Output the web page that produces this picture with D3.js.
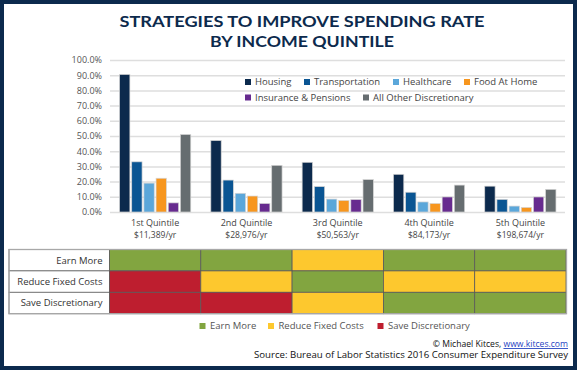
<!DOCTYPE html>
<html><head><meta charset="utf-8">
<script src="https://cdn.jsdelivr.net/npm/d3@7"></script>
<style>
html,body{margin:0;padding:0;background:#fff;}
svg{display:block;font-family:"Open Sans",sans-serif;}
</style></head>
<body>
<svg id="c" width="577" height="370"></svg>
<script>
const quintiles = ["1st Quintile","2nd Quintile","3rd Quintile","4th Quintile","5th Quintile"];
const incomes = ["$11,389/yr","$28,976/yr","$50,563/yr","$84,173/yr","$198,674/yr"];
const seriesNames = ["Housing","Transportation","Healthcare","Food At Home","Insurance & Pensions","All Other Discretionary"];
const housing = [90.5, 47, 32.7, 24.8, 17];
const transportation = [33, 21, 16.7, 13, 8.3];
const healthcare = [19, 12.3, 8.5, 6.6, 3.9];
const foodAtHome = [22.2, 10.5, 7.6, 5.6, 3.0];
const insurance = [6, 5.6, 8.2, 9.9, 9.9];
const allOther = [51, 30.7, 21.3, 17.7, 14.9];
const yTicks = [0,10,20,30,40,50,60,70,80,90,100];
const strategies = ["Earn More","Reduce Fixed Costs","Save Discretionary"];
const earnMoreRow = ["Earn More","Earn More","Reduce Fixed Costs","Earn More","Earn More"];
const reduceFixedRow = ["Save Discretionary","Reduce Fixed Costs","Earn More","Reduce Fixed Costs","Reduce Fixed Costs"];
const saveDiscRow = ["Save Discretionary","Save Discretionary","Reduce Fixed Costs","Earn More","Earn More"];

const seriesValues = [housing, transportation, healthcare, foodAtHome, insurance, allOther];
const seriesColors = ["#0c2a4d","#0a5593","#5ba7da","#f7961e","#672b8f","#666d70"];
const stratColors = {"Earn More":"#82a540","Reduce Fixed Costs":"#fdc82e","Save Discretionary":"#be1e2f"};
const tableRows = [earnMoreRow, reduceFixedRow, saveDiscRow];

const svg = d3.select("#c");
const navy = "#0c2a4d";

// Title
const title = svg.append("g").attr("fill", navy).attr("font-weight", 700).attr("font-size", 16)
  .attr("font-family","Lato, 'Open Sans', sans-serif").attr("text-anchor","middle");
title.append("text").attr("x", 302).attr("y", 27).attr("textLength", 365).attr("lengthAdjust","spacingAndGlyphs").text("STRATEGIES TO IMPROVE SPENDING RATE");
title.append("text").attr("x", 302).attr("y", 46.5).attr("textLength", 184).attr("lengthAdjust","spacingAndGlyphs").text("BY INCOME QUINTILE");

// Scales
const y = d3.scaleLinear().domain([0,100]).range([212, 60]);
const x0 = d3.scaleBand().domain(quintiles).range([109.5, 566]).paddingInner(0.22).paddingOuter(0.11);
const x1 = d3.scaleBand().domain(seriesNames).range([0, x0.bandwidth()]).paddingInner(0.15);

// Gridlines + y labels
const yAxis = d3.axisLeft(y).tickValues(yTicks).tickSize(-(565-110)).tickPadding(8).tickFormat(d => d.toFixed(1) + "%");
const ga = svg.append("g").attr("transform","translate(110,0)").call(yAxis);
ga.select(".domain").remove();
ga.selectAll(".tick line").attr("stroke","#dedede").attr("stroke-width",1.5);
ga.selectAll(".tick text").attr("fill","#555").attr("font-size",9).attr("font-family","'Open Sans',sans-serif").attr("x",-8);

// Bars
const groups = svg.append("g").selectAll("g").data(quintiles).join("g")
  .attr("transform", d => `translate(${x0(d)},0)`);
groups.selectAll("rect").data((q,i) => seriesNames.map((s,j) => ({s, v: seriesValues[j][i], c: seriesColors[j]})))
  .join("rect")
  .attr("x", d => x1(d.s)).attr("width", x1.bandwidth())
  .attr("y", d => y(d.v)).attr("height", d => y(0) - y(d.v))
  .attr("fill", d => d.c).attr("stroke","#d4d4d4").attr("stroke-width",0.7);

// X labels
const xl = svg.append("g").attr("text-anchor","middle").attr("fill","#444");
quintiles.forEach((q,i) => {
  const cx = x0(q) + x0.bandwidth()/2;
  xl.append("text").attr("x", cx).attr("y", 226).attr("font-size",9).text(q);
  xl.append("text").attr("x", cx).attr("y", 237.5).attr("font-size",8.5).text(incomes[i]);
});

// Top legend
const legPos = [[248,82],[307,82],[396,82],[467,82],[248,97.5],[366,97.5]];
const lg = svg.append("g").attr("font-size",9.5).attr("fill","#444");
seriesNames.forEach((s,i) => {
  const [lx,ly] = legPos[i];
  lg.append("rect").attr("x", lx-3).attr("y", ly-3).attr("width",6).attr("height",6).attr("fill",seriesColors[i]);
  lg.append("text").attr("x", lx+7).attr("y", ly+3.3).text(s);
});

// Table
const tx = 9, labelW = 100.5, tTop = 249.5, rowH = 21.4;
const tg = svg.append("g");
tableRows.forEach((row, r) => {
  const ry = tTop + r*rowH;
  tg.append("rect").attr("x", tx).attr("y", ry).attr("width", labelW).attr("height", rowH)
    .attr("fill","#fff").attr("stroke","#666").attr("stroke-width",0.8);
  tg.append("text").attr("x", tx+labelW-7).attr("y", ry+rowH/2+3.4).attr("text-anchor","end")
    .attr("font-size",9.5).attr("fill","#333").text(strategies[r]);
  row.forEach((v, c) => {
    const q = quintiles[c];
    const cx = x0(q) - x0.step()*x0.paddingInner()/2;
    tg.append("rect").attr("x", cx).attr("y", ry).attr("width", x0.step()).attr("height", rowH)
      .attr("fill", stratColors[v]).attr("stroke","#5a5a5a").attr("stroke-width",0.8);
  });
});
tg.append("rect").attr("x", tx).attr("y", tTop).attr("width", 566.5-tx).attr("height", rowH*3)
  .attr("fill","none").attr("stroke","#a8a8a8").attr("stroke-width",1.3);

// Bottom legend
const bl = svg.append("g").attr("font-size",9.5).attr("fill","#555");
const blPos = [202.5, 271, 380.5];
strategies.forEach((s,i) => {
  bl.append("rect").attr("x", blPos[i]-3).attr("y", 323).attr("width",6).attr("height",6).attr("fill",stratColors[s]);
  bl.append("text").attr("x", blPos[i]+7.5).attr("y", 329.3).text(s);
});

// Credits
const cr = svg.append("g").attr("font-size",8.6).attr("fill","#111").attr("text-anchor","end");
const t1 = cr.append("text").attr("x", 568).attr("y", 347);
t1.append("tspan").text("© Michael Kitces, ");
t1.append("tspan").attr("fill","#1f3fbf").attr("text-decoration","underline").text("www.kitces.com");
cr.append("text").attr("x", 568).attr("y", 357.5).attr("textLength", 314).attr("lengthAdjust","spacingAndGlyphs")
  .text("Source: Bureau of Labor Statistics 2016 Consumer Expenditure Survey");

// Frame
svg.append("rect").attr("x",2).attr("y",2).attr("width",573).attr("height",366)
  .attr("fill","none").attr("stroke",navy).attr("stroke-width",4);
</script>
</body></html>
